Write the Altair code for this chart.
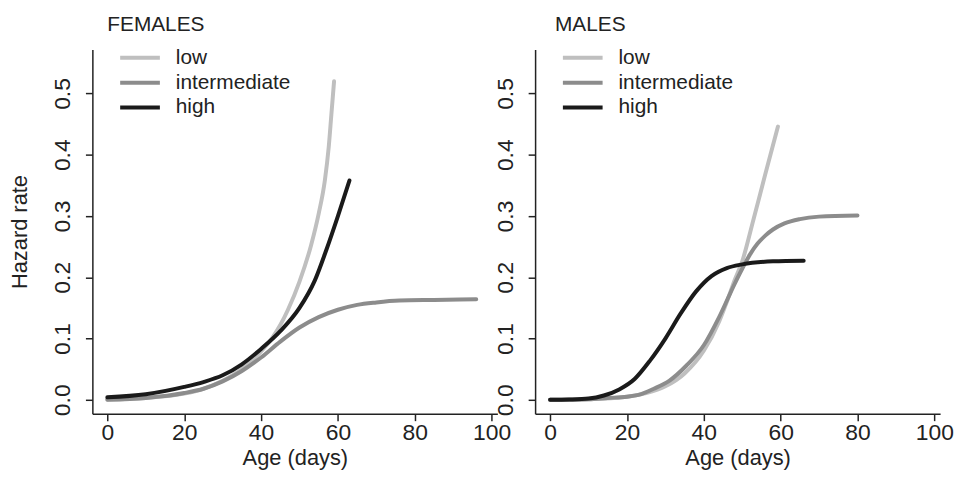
import altair as alt
import pandas as pd

# ---------------- data ----------------
groups = ["low", "intermediate", "high"]
colors = ["#bfbfbf", "#8c8c8c", "#1a1a1a"]
x_ticks = [0, 20, 40, 60, 80, 100]
y_ticks = [0.0, 0.1, 0.2, 0.3, 0.4, 0.5]

# FEMALES
f_low_day = [0, 10, 20, 25, 30, 35, 40, 43, 45, 47, 50, 53, 55, 56.6, 57.6, 58.3, 59]
f_low_val = [0.0005, 0.003, 0.010, 0.018, 0.031, 0.050, 0.079, 0.102, 0.122, 0.147,
             0.193, 0.252, 0.304, 0.358, 0.412, 0.466, 0.520]
f_int_day = [0, 10, 20, 25, 30, 35, 40, 45, 50, 55, 60, 65, 70, 76, 85, 96]
f_int_val = [0.0, 0.003, 0.011, 0.018, 0.030, 0.047, 0.069, 0.095, 0.118, 0.135,
             0.147, 0.155, 0.159, 0.162, 0.163, 0.164]
f_high_day = [0, 10, 20, 25, 30, 35, 40, 45, 50, 54, 57, 60, 63]
f_high_val = [0.004, 0.009, 0.021, 0.029, 0.040, 0.058, 0.083, 0.112, 0.150, 0.195,
              0.245, 0.300, 0.358]

# MALES
m_low_day = [0, 10, 20, 25, 30, 35, 40, 44, 46, 48, 50, 53, 56, 59.3]
m_low_val = [0.0, 0.001, 0.005, 0.011, 0.022, 0.043, 0.080, 0.128, 0.160, 0.195,
             0.226, 0.296, 0.368, 0.446]
m_int_day = [0, 10, 15, 20, 23, 27, 31, 35.5, 40, 44, 48, 50, 52, 54, 56, 58, 61, 65, 70, 80]
m_int_val = [0.0, 0.001, 0.003, 0.005, 0.008, 0.018, 0.031, 0.056, 0.089, 0.135,
             0.189, 0.214, 0.237, 0.255, 0.268, 0.278, 0.288, 0.295, 0.299, 0.301]
m_high_day = [0, 5, 10, 14, 18, 22, 26, 30, 34, 38, 42, 46, 50, 58, 66]
m_high_val = [0.0, 0.0005, 0.002, 0.007, 0.017, 0.034, 0.064, 0.100, 0.141, 0.177,
              0.202, 0.215, 0.221, 0.226, 0.227]


def make_frame(series):
    rows = []
    for g, (days, vals) in zip(groups, series):
        for d, v in zip(days, vals):
            rows.append({"group": g, "day": d, "value": v})
    return pd.DataFrame(rows)


fem = make_frame([(f_low_day, f_low_val), (f_int_day, f_int_val), (f_high_day, f_high_val)])
mal = make_frame([(m_low_day, m_low_val), (m_int_day, m_int_val), (m_high_day, m_high_val)])

FONT = "Liberation Sans"
INK = "#222222"


def panel(df, title, dx, ytitle):
    yaxis_kw = dict(
        values=y_ticks, format=".1f", grid=False, labelAngle=270, labelAlign="center",
        labelBaseline="alphabetic", labelPadding=16, labelFontSize=23, labelFont=FONT,
        labelColor=INK, tickSize=7, tickWidth=1.5, tickColor=INK, domainColor=INK,
        domainWidth=1.5, labelFlush=False, labelOverlap=False,
        titleFont=FONT, titleFontSize=22, titleFontWeight="normal", titleColor=INK,
        titlePadding=20,
    )
    if ytitle:
        yaxis = alt.Axis(title=ytitle, **yaxis_kw)
    else:
        yaxis = alt.Axis(title=None, **yaxis_kw)
    return (
        alt.Chart(df)
        .mark_line(strokeWidth=4, strokeCap="round", interpolate="monotone")
        .encode(
            x=alt.X(
                "day:Q",
                scale=alt.Scale(domain=[-3.9, 101.5], nice=False, zero=False),
                axis=alt.Axis(
                    title="Age (days)", values=x_ticks, grid=False, labelFontSize=23,
                    labelFont=FONT, labelColor=INK, labelPadding=1, tickSize=7,
                    tickWidth=1.5, tickColor=INK, domainColor=INK, domainWidth=1.5,
                    labelFlush=False, labelOverlap=False, titleFont=FONT,
                    titleFontSize=22, titleFontWeight="normal", titleColor=INK,
                    titlePadding=3,
                ),
            ),
            y=alt.Y(
                "value:Q",
                scale=alt.Scale(domain=[-0.0227, 0.572], nice=False, zero=False),
                axis=yaxis,
            ),
            color=alt.Color(
                "group:N",
                scale=alt.Scale(domain=groups, range=colors),
                legend=alt.Legend(
                    title=None, orient="none", legendX=26, legendY=-4,
                    symbolType="stroke", symbolSize=1600, symbolStrokeWidth=4,
                    labelFont=FONT, labelFontSize=21, labelColor=INK, labelOffset=14,
                    clipHeight=25, rowPadding=0, padding=0,
                ),
            ),
        )
        .properties(
            width=408,
            height=367,
            title=alt.Title(
                title, anchor="start", frame="group", dx=dx, offset=-6,
                baseline="alphabetic", font=FONT, fontSize=21, fontWeight="normal",
                color=INK,
            ),
        )
    )


left = panel(fem, "FEMALES", 15, "Hazard rate")
right = panel(mal, "MALES", 20, None)

chart = (
    alt.hconcat(left, right, spacing=38, bounds="flush")
    .resolve_legend(color="independent")
    .properties(padding={"left": 0, "top": 4, "right": 0, "bottom": 0})
    .configure_view(stroke=None)
)

chart.save("out.html", embed_options={"renderer": "svg", "actions": False})
